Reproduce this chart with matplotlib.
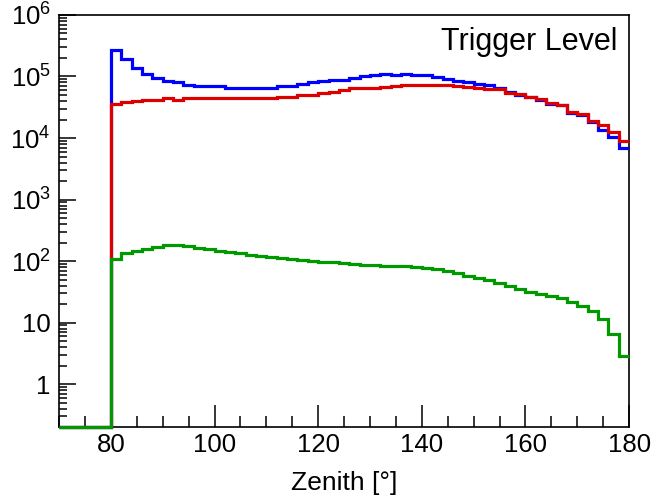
import numpy as np
import matplotlib.pyplot as plt
from matplotlib.ticker import FixedLocator, FixedFormatter, LogLocator, MultipleLocator, NullFormatter

plt.rcParams['font.family'] = ['Liberation Sans', 'DejaVu Sans']
plt.rcParams['mathtext.fontset'] = 'custom'
plt.rcParams['mathtext.rm'] = 'Liberation Sans'
plt.rcParams['mathtext.it'] = 'Liberation Sans'

# Zenith bins, 2 degree wide, from 70 to 180
bin_edges = np.arange(70, 182, 2)

# Event counts per bin (bins 70-80 are empty)
blue_counts = [0, 0, 0, 0, 0,
               2.74e5, 1.89e5, 1.37e5, 1.11e5, 9.4e4, 8.6e4, 8.1e4, 7.25e4, 6.9e4, 6.9e4,
               6.9e4, 6.6e4, 6.6e4, 6.6e4, 6.6e4, 6.6e4, 7.1e4, 7.1e4, 7.6e4, 8.1e4,
               8.5e4, 8.9e4, 8.9e4, 9.6e4, 1.0e5, 1.04e5, 1.1e5, 1.06e5, 1.1e5, 1.06e5,
               1.04e5, 9.8e4, 9.2e4, 8.6e4, 8.1e4, 7.6e4, 7.2e4, 6.4e4, 5.6e4, 4.93e4,
               4.63e4, 4.14e4, 3.61e4, 3.48e4, 2.55e4, 2.4e4, 1.82e4, 1.33e4, 1.04e4, 6.9e3]

red_counts = [0, 0, 0, 0, 0,
              3.6e4, 3.8e4, 4.0e4, 4.1e4, 4.1e4, 4.5e4, 4.2e4, 4.5e4, 4.5e4, 4.5e4,
              4.5e4, 4.5e4, 4.5e4, 4.5e4, 4.5e4, 4.5e4, 4.7e4, 4.7e4, 5.05e4, 5.05e4,
              5.4e4, 5.7e4, 6.0e4, 6.5e4, 6.5e4, 6.5e4, 6.8e4, 7.0e4, 7.2e4, 7.3e4,
              7.3e4, 7.3e4, 7.2e4, 7.0e4, 6.7e4, 6.5e4, 6.2e4, 6.17e4, 5.45e4, 5.12e4,
              4.63e4, 4.25e4, 3.75e4, 3.48e4, 2.65e4, 2.46e4, 1.92e4, 1.61e4, 1.26e4, 8.9e3]

green_counts = [0, 0, 0, 0, 0,
                108, 134, 148, 157, 167, 180, 183, 176, 165, 155,
                146, 140, 134, 125, 122, 117, 112, 108, 105, 102,
                98, 95, 93, 90, 87, 85, 84, 84, 83, 80,
                78, 74, 68, 63, 58, 54, 49, 44, 40, 35,
                32, 29, 27, 25, 22, 18.5, 15.2, 11.5, 6.5, 2.9]

y_min, y_max = 0.2, 1e6
y_ticks = [1, 10, 1e2, 1e3, 1e4, 1e5, 1e6]
y_tick_labels = ['1', '10', r'$10^2$', r'$10^3$', r'$10^4$', r'$10^5$', r'$10^6$']

fig = plt.figure(figsize=(6.56, 4.99), dpi=100)
ax = fig.add_axes([0.090, 0.144, 0.869, 0.826])

for counts, colour in [(blue_counts, '#0000ff'), (red_counts, '#dd0000'), (green_counts, '#009900')]:
    # empty bins sit on the lower frame edge like in ROOT
    vals = np.where(np.array(counts) > 0, counts, y_min)
    ax.stairs(vals, bin_edges, baseline=None, color=colour, linewidth=2.3,
              clip_on=False, zorder=3)

ax.set_yscale('log')
ax.set_xlim(70, 180)
ax.set_ylim(y_min, y_max)

ax.xaxis.set_major_locator(MultipleLocator(20))
ax.xaxis.set_minor_locator(MultipleLocator(5))
ax.set_xticks([80, 100, 120, 140, 160, 180])
ax.yaxis.set_major_locator(FixedLocator(y_ticks))
ax.yaxis.set_major_formatter(FixedFormatter(y_tick_labels))
ax.yaxis.set_minor_locator(LogLocator(base=10, subs=np.arange(2, 10)))
ax.yaxis.set_minor_formatter(NullFormatter())

ax.tick_params(which='both', direction='in', top=False, right=False, width=1.1, labelsize=18.5)
ax.tick_params(axis='x', which='major', length=16, pad=4)
ax.tick_params(axis='x', which='minor', length=8)
ax.tick_params(axis='y', which='major', length=12, pad=6)
ax.tick_params(axis='y', which='minor', length=6)
for s in ax.spines.values():
    s.set_linewidth(1.2)

ax.set_xlabel('Zenith [°]', fontsize=19, labelpad=10)
ax.text(0.98, 0.935, 'Trigger Level', transform=ax.transAxes, ha='right', va='center', fontsize=22)

fig.savefig('out.png', dpi=100)
